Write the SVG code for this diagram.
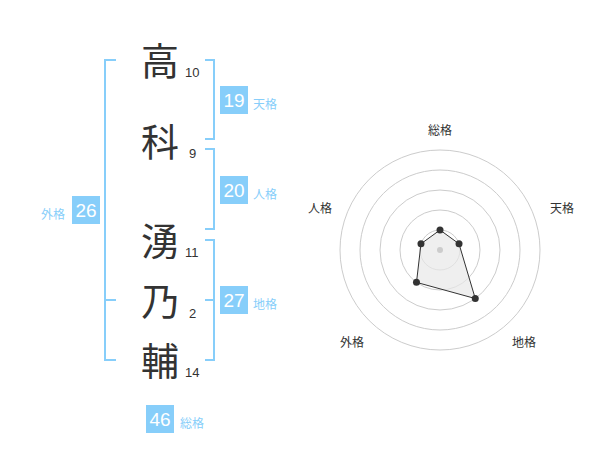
<svg xmlns="http://www.w3.org/2000/svg" width="600" height="470" viewBox="0 0 600 470">
<style>
.kanji{font-family:"Noto Sans CJK JP","Noto Sans",sans-serif;font-size:38px;fill:#333;text-anchor:middle}
.num{font-family:"Liberation Sans",Arial,sans-serif;font-size:13px;fill:#333}
.br{fill:none;stroke:#87cefa;stroke-width:2}
.box{fill:#87cefa}
.bnum{font-family:"Liberation Sans",Arial,sans-serif;font-size:19px;fill:#fff;text-anchor:middle}
.blab{font-family:"Noto Sans CJK JP",sans-serif;font-size:12px;fill:#87cefa}
.ring{fill:none;stroke:#ccc;stroke-width:1}
.rlab{font-family:"Noto Sans CJK JP",sans-serif;font-size:12px;fill:#333;text-anchor:middle}
.pt{fill:#333}
</style>
<rect width="600" height="470" fill="#fff"/>
<g id="chars">
<g id="c1"><text class="kanji" x="160" y="75">高</text><text class="num" x="185" y="77">10</text></g>
<g id="c2"><text class="kanji" x="160" y="156">科</text><text class="num" x="189" y="158">9</text></g>
<g id="c3"><text class="kanji" x="160" y="255">湧</text><text class="num" x="185" y="257">11</text></g>
<g id="c4"><text class="kanji" x="160" y="315">乃</text><text class="num" x="189" y="318">2</text></g>
<g id="c5"><text class="kanji" x="160" y="375">輔</text><text class="num" x="185" y="377">14</text></g>
</g>
<g id="brackets">
<path class="br" d="M116,60 H105 V360 H116 M105,300 H116"/>
<path class="br" d="M205,60 H214 V139 H205"/>
<path class="br" d="M205,149 H214 V229 H205"/>
<path class="br" d="M205,240 H214 V360 H205 M214,300 H205"/>
</g>
<g id="tenkaku"><rect class="box" x="220" y="86" width="28" height="28"/><text class="bnum" x="234" y="107">19</text><text class="blab" x="253" y="109">天格</text></g>
<g id="jinkaku"><rect class="box" x="220" y="176" width="28" height="28"/><text class="bnum" x="234" y="197">20</text><text class="blab" x="253" y="199">人格</text></g>
<g id="gaikaku"><rect class="box" x="72" y="196" width="28" height="28"/><text class="bnum" x="86" y="217">26</text><text class="blab" x="41" y="219">外格</text></g>
<g id="chikaku"><rect class="box" x="220" y="286" width="28" height="28"/><text class="bnum" x="234" y="307">27</text><text class="blab" x="253" y="309">地格</text></g>
<g id="soukaku"><rect class="box" x="146" y="405" width="28" height="28"/><text class="bnum" x="160" y="426">46</text><text class="blab" x="180" y="428">総格</text></g>
<g id="radar">
<circle class="ring" cx="440" cy="250" r="20"/>
<circle class="ring" cx="440" cy="250" r="40"/>
<circle class="ring" cx="440" cy="250" r="60"/>
<circle class="ring" cx="440" cy="250" r="80"/>
<circle class="ring" cx="440" cy="250" r="100"/>
<polygon points="440,230 459.02,243.82 475.27,298.54 416.49,282.36 420.98,243.82" fill="#e8e8e8" fill-opacity="0.7" stroke="#333" stroke-width="1"/>
<circle cx="440" cy="250" r="3" fill="#ccc"/>
<circle class="pt" cx="440" cy="230" r="3.5"/>
<circle class="pt" cx="459.02" cy="243.82" r="3.5"/>
<circle class="pt" cx="475.27" cy="298.54" r="3.5"/>
<circle class="pt" cx="416.49" cy="282.36" r="3.5"/>
<circle class="pt" cx="420.98" cy="243.82" r="3.5"/>
<text class="rlab" x="440" y="135">総格</text>
<text class="rlab" x="562" y="213">天格</text>
<text class="rlab" x="320" y="213">人格</text>
<text class="rlab" x="352" y="347">外格</text>
<text class="rlab" x="524" y="347">地格</text>
</g>
</svg>
